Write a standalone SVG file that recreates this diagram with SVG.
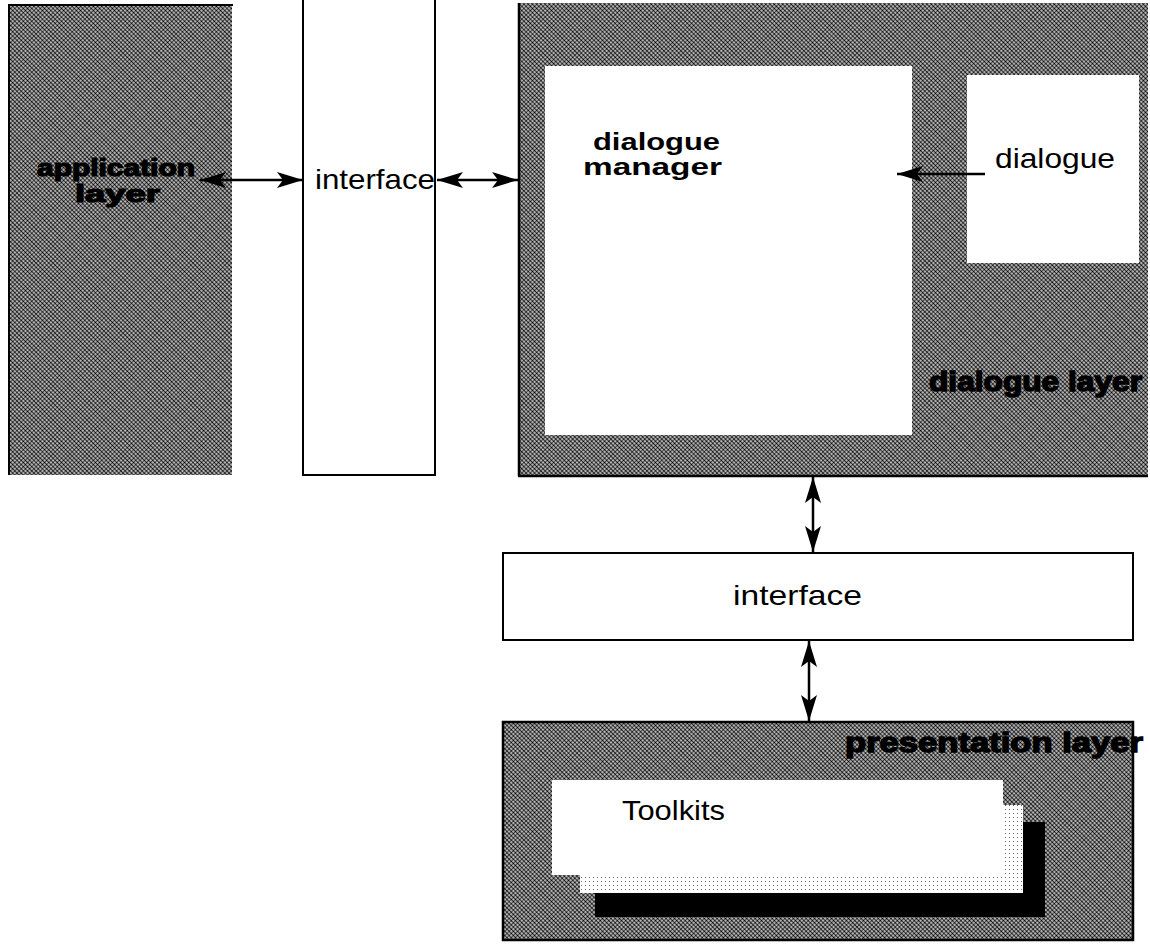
<svg xmlns="http://www.w3.org/2000/svg" width="1150" height="944" viewBox="0 0 1150 944">
<defs>
<pattern id="ht" width="3" height="3" patternUnits="userSpaceOnUse" patternTransform="rotate(45)">
<rect width="3" height="3" fill="#ffffff"/>
<circle cx="1.5" cy="1.5" r="1.3" fill="#000000"/>
</pattern>
<pattern id="lt" width="4" height="4" patternUnits="userSpaceOnUse">
<rect width="4" height="4" fill="#ffffff"/>
<rect x="1" y="1" width="1" height="1" fill="#666666"/>
</pattern>
<marker id="ah" viewBox="0 0 26 16" refX="26" refY="8" markerWidth="26" markerHeight="16" markerUnits="userSpaceOnUse" orient="auto-start-reverse">
<path d="M0,0 L26,8 L0,16 L6,8 Z" fill="#000"/>
</marker>
<style>
.layer{fill:url(#ht);}
.box{fill:#fff;stroke:#000;stroke-width:2;}
.lbl{font-family:"Liberation Sans",Arial,sans-serif;font-size:28px;fill:#000;}
.blbl{font-family:"Liberation Sans",Arial,sans-serif;font-size:23px;font-weight:bold;fill:#000;}
.heavy{font-family:"Liberation Sans",Arial,sans-serif;font-size:28px;font-weight:bold;fill:#000;stroke:#000;stroke-width:1.4;}
.heavy2{font-family:"Liberation Sans",Arial,sans-serif;font-size:23px;font-weight:bold;fill:#000;stroke:#000;stroke-width:1.2;}
.conn{stroke:#000;stroke-width:2.5;fill:none;}
</style>
</defs>
<g id="application-layer">
<rect class="layer" x="8" y="5" width="224" height="470"/>
<line x1="8" y1="5" x2="233" y2="5" stroke="#000" stroke-width="2"/>
<line x1="9" y1="5" x2="9" y2="475" stroke="#000" stroke-width="2"/>
<text class="heavy2" x="37" y="176" textLength="158" lengthAdjust="spacingAndGlyphs">application</text>
<text class="heavy2" x="75" y="202" textLength="85" lengthAdjust="spacingAndGlyphs">layer</text>
</g>
<g id="interface-vertical">
<rect class="box" x="303" y="-2" width="132" height="477" stroke-width="1.5"/>
<text class="lbl" x="315" y="189" textLength="120" lengthAdjust="spacingAndGlyphs">interface</text>
</g>
<g id="dialogue-layer">
<rect class="layer" x="518" y="3" width="630" height="473"/>
<line x1="519" y1="3" x2="519" y2="476" stroke="#000" stroke-width="2.5"/>
<line x1="518" y1="476" x2="1148" y2="476" stroke="#000" stroke-width="2.5"/>
<text class="heavy" x="929" y="391" textLength="213" lengthAdjust="spacingAndGlyphs">dialogue layer</text>
</g>
<g id="dialogue-manager">
<rect x="545" y="66" width="367" height="369" fill="#fff"/>
<text class="blbl" x="593" y="150" textLength="127" lengthAdjust="spacingAndGlyphs">dialogue</text>
<text class="blbl" x="583" y="175" textLength="139" lengthAdjust="spacingAndGlyphs">manager</text>
</g>
<g id="dialogue">
<rect x="967" y="75" width="172" height="188" fill="#fff"/>
<text class="lbl" x="995" y="168" textLength="120" lengthAdjust="spacingAndGlyphs">dialogue</text>
</g>
<g id="interface-horizontal">
<rect class="box" x="503" y="553" width="630" height="87" stroke-width="2.5"/>
<text class="lbl" x="733" y="605" textLength="129" lengthAdjust="spacingAndGlyphs">interface</text>
</g>
<g id="presentation-layer">
<rect class="layer" x="503" y="722" width="630" height="218" stroke="#000" stroke-width="2.5"/>
<text class="heavy" x="845" y="752" textLength="298" lengthAdjust="spacingAndGlyphs">presentation layer</text>
</g>
<g id="toolkits">
<rect x="595" y="822" width="450" height="95" fill="#000"/>
<rect x="580" y="805" width="443" height="88" fill="url(#lt)"/>
<rect x="552" y="780" width="451" height="95" fill="#fff"/>
<text class="lbl" x="622" y="820" textLength="103" lengthAdjust="spacingAndGlyphs">Toolkits</text>
</g>
<g id="connectors">
<line class="conn" x1="200" y1="180" x2="303" y2="180" marker-start="url(#ah)" marker-end="url(#ah)"/>
<line class="conn" x1="437" y1="180" x2="518" y2="180" marker-start="url(#ah)" marker-end="url(#ah)"/>
<line class="conn" x1="985" y1="174" x2="897" y2="174" marker-end="url(#ah)"/>
<line class="conn" x1="813" y1="477" x2="813" y2="552" marker-start="url(#ah)" marker-end="url(#ah)"/>
<line class="conn" x1="809" y1="641" x2="809" y2="721" marker-start="url(#ah)" marker-end="url(#ah)"/>
</g>
</svg>
